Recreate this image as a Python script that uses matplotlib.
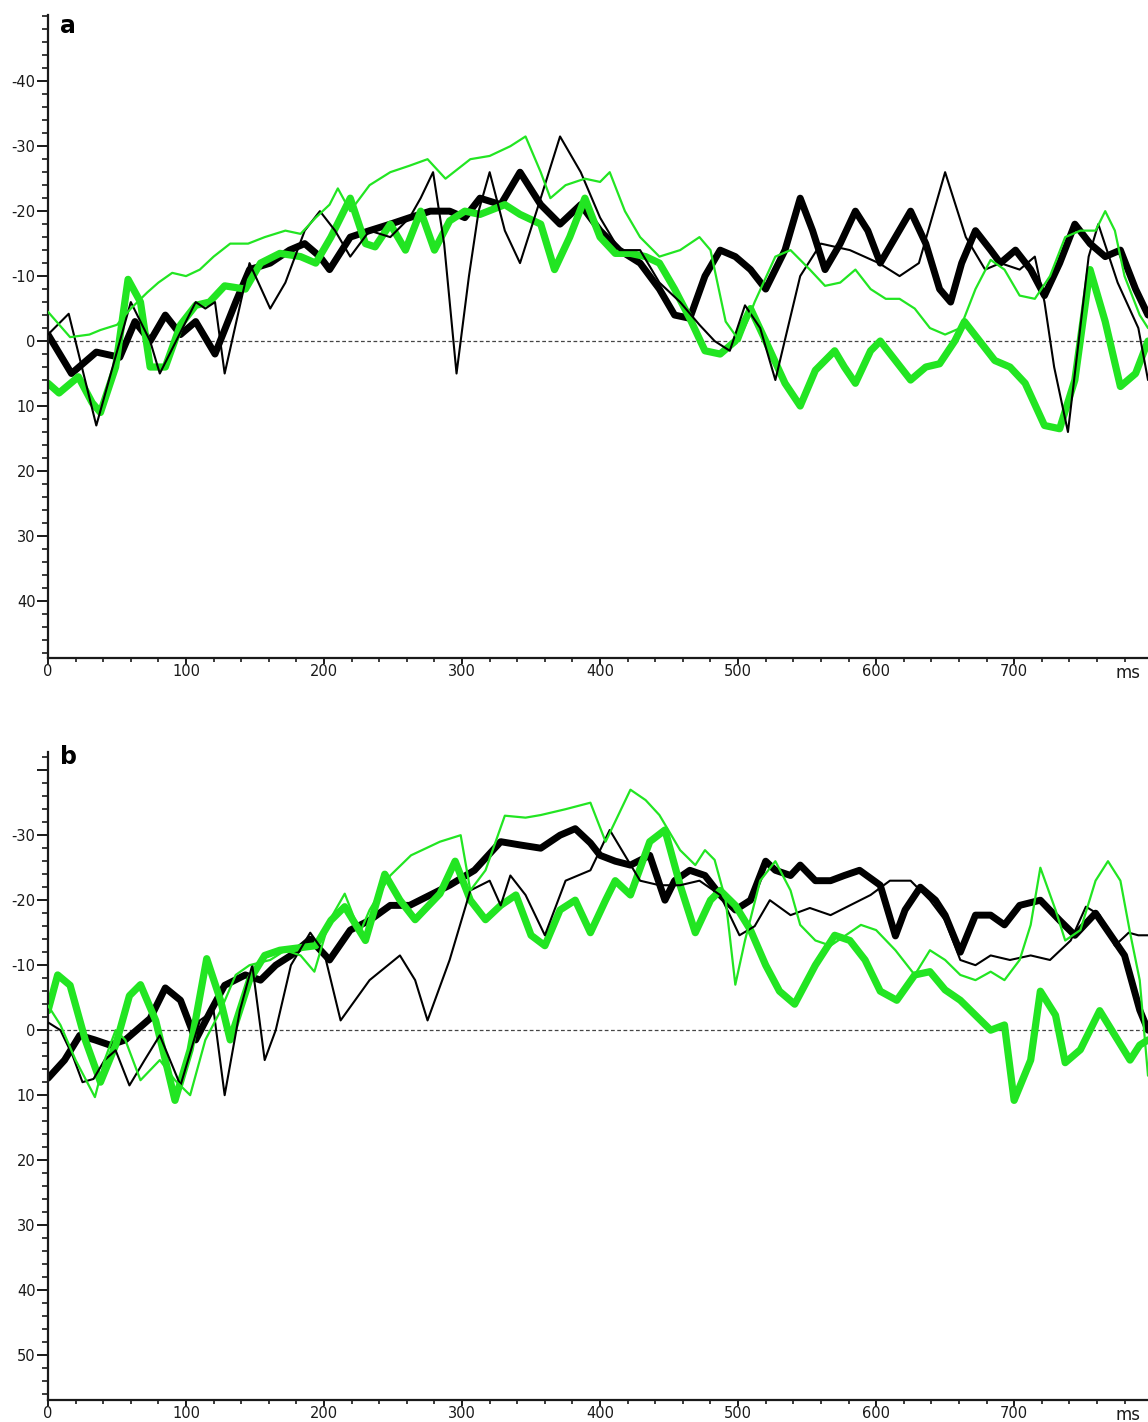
import matplotlib
matplotlib.use("Agg")
import matplotlib.pyplot as plt
from matplotlib.ticker import MultipleLocator, FixedLocator, FixedFormatter

plt.rcParams['axes.unicode_minus'] = False
plt.rcParams['font.family'] = ['DejaVu Sans']

# ---------------- Panel a data (ms, amplitude) ----------------
a_thick_black_t = [0,17,35,52,63,74,85,96,107,121,136,146,161,175,186,197,204,219,233,248,262,277,291,302,313,328,342,357,371,386,400,414,429,443,454,465,476,487,498,509,520,534,545,554,563,574,585,594,603,614,625,636,646,654,662,672,683,690,701,712,722,733,744,755,766,777,788,797]
a_thick_black_v = [-1,5,1.7,2.5,-3,0,-4,-1,-3,2,-6,-11,-12,-14,-15,-13,-11,-16,-17,-18,-19,-20,-20,-19,-22,-21,-26,-21,-18,-21,-17,-14,-12,-8,-4,-3.5,-10,-14,-13,-11,-8,-14,-22,-17,-11,-15,-20,-17,-12,-16,-20,-15,-8,-6,-12,-17,-14,-12,-14,-11,-7,-12,-18,-15,-13,-14,-8,-4]

a_thin_black_t = [0,15,35,60,74,81,107,114,121,128,146,161,172,186,197,208,219,233,248,262,270,279,287,296,305,312,320,331,342,357,371,386,400,414,429,443,458,472,483,494,505,516,527,545,560,581,602,617,631,650,665,679,690,704,715,722,729,739,754,761,775,790,797]
a_thin_black_v = [-1,-4.2,13,-6,0,5,-6,-5,-6,5,-12,-5,-9,-17,-20,-17,-13,-17,-16,-19,-22,-26,-15,5,-10,-20,-26,-17,-12,-22,-31.5,-26,-19,-14,-14,-9,-6,-2.5,0,1.5,-5.5,-2,6,-10,-15,-14,-12,-10,-12,-26,-16,-11,-12,-11,-13,-6,4,14,-13,-18,-9,-2,6]

a_thick_green_t = [0,8,22,32,38,49,58,67,74,85,96,107,117,128,143,154,168,183,194,205,219,230,237,248,259,270,280,291,302,313,331,342,357,367,378,389,400,411,422,433,443,454,465,476,487,498,509,520,534,545,556,570,577,585,596,603,614,625,636,646,657,664,675,686,697,708,722,733,744,755,766,777,788,797]
a_thick_green_v = [6.5,8,5.5,9.5,11,4,-9.5,-6,4,4,-2.5,-5.5,-6,-8.5,-8,-12,-13.5,-13,-12,-16,-22,-15,-14.5,-18,-14,-20,-14,-18.5,-20,-19.5,-21,-19.5,-18,-11,-16,-22,-16,-13.5,-13.5,-13,-12,-8,-3.5,1.5,2,0,-5,0,6.5,10,4.5,1.5,4,6.5,1.5,0,3,6,4,3.5,0,-3,0,3,4,6.5,13,13.5,6,-11,-3,7,5,0]

a_thin_green_t = [0,16,30,38,50,60,72,80,90,100,110,120,132,145,157,172,183,194,204,210,219,233,248,262,275,288,306,320,335,346,357,364,375,389,400,407,418,429,443,458,472,480,491,501,512,527,538,552,563,574,585,596,607,617,628,639,650,661,672,683,693,704,715,726,737,748,759,766,773,780,791,797]
a_thin_green_v = [-4.5,-0.6,-1,-1.7,-2.5,-5,-7.5,-9,-10.5,-10,-11,-13,-15,-15,-16,-17,-16.5,-19,-21,-23.5,-20,-24,-26,-27,-28,-25,-28,-28.5,-30,-31.5,-26,-22,-24,-25,-24.5,-26,-20,-16,-13,-14,-16,-14,-3,0,-6,-13,-14,-11,-8.5,-9,-11,-8,-6.5,-6.5,-5,-2,-1,-2,-8,-12.5,-11,-7,-6.5,-10,-16,-17,-17,-20,-17,-10,-4,-2]

# ---------------- Panel b data (ms, amplitude) ----------------
b_thick_black_t = [0,12,23,34,45,56,74,85,96,107,118,128,143,154,165,176,190,204,219,233,248,262,277,291,309,328,342,357,371,382,393,400,411,422,436,447,454,465,476,487,498,509,520,527,538,545,556,567,577,588,603,614,621,632,643,650,661,672,683,693,704,719,733,744,759,770,780,791,797]
b_thick_black_v = [7.4,4.6,0.8,1.5,2.3,1.5,-1.8,-6.5,-4.6,1.5,-3,-6.9,-8.5,-7.7,-10,-11.5,-14,-10.8,-15.4,-16.9,-19.2,-19.2,-20.8,-22.3,-24.6,-29,-28.5,-28,-30,-31,-28.8,-26.9,-26,-25.4,-26.9,-20,-23,-24.6,-23.8,-20.8,-18.5,-20,-26,-24.6,-23.8,-25.4,-23,-23,-23.8,-24.6,-22.3,-14.5,-18.5,-22,-20,-17.7,-12,-17.7,-17.7,-16.2,-19.2,-20,-16.9,-14.6,-18,-14.6,-11.5,-3.1,0]

b_thin_black_t = [0,9,18,25,33,41,49,59,70,81,96,110,120,128,139,148,157,165,176,190,200,212,233,255,266,275,291,306,320,328,335,346,360,375,393,407,418,429,443,458,472,487,501,512,523,538,552,567,581,596,610,625,639,650,661,672,683,697,712,726,741,752,762,773,783,790,797]
b_thin_black_v = [-1.2,0,4,8,7.5,4.6,3.1,8.5,4.6,0.8,8.5,-1.5,-3,10,-3,-10,4.6,0,-10,-15,-12,-1.5,-7.7,-11.5,-7.7,-1.5,-10.8,-21.5,-23,-19.2,-23.8,-20.8,-14.6,-23,-24.6,-30.8,-26.9,-23,-22.3,-22.3,-23,-20.8,-14.6,-16,-20,-17.7,-18.8,-17.7,-19.2,-20.8,-23,-23,-20,-16.9,-10.8,-10,-11.5,-10.8,-11.5,-10.8,-13.8,-19,-17.7,-13,-15,-14.6,-14.6]

b_thick_green_t = [0,7,16,27,38,49,59,67,78,85,92,103,115,125,132,146,157,168,183,194,205,215,230,244,255,266,284,295,306,317,328,339,350,360,371,382,393,404,411,422,436,447,458,469,480,487,498,509,520,530,541,556,570,581,592,603,615,628,639,650,661,672,683,693,700,712,719,730,737,748,762,773,784,791,797]
b_thick_green_v = [-3,-8.5,-6.9,1.5,8,2.3,-5.3,-7,-1.5,4.6,10.8,3,-11,-4.6,1.5,-7.7,-11.5,-12.3,-12.7,-13,-16.9,-19,-13.8,-24,-20,-17,-21,-26,-20,-17,-19.2,-20.8,-14.6,-13,-18.5,-20,-15,-20,-23,-20.8,-29,-30.8,-22.3,-15,-20,-21.5,-19.2,-15.4,-10,-6,-4,-10,-14.6,-13.8,-10.8,-6,-4.6,-8.5,-9,-6.2,-4.6,-2.3,0,-0.8,10.8,4.6,-6,-2.3,5,3,-3,0.8,4.6,2.3,1.5]

b_thin_green_t = [0,9,20,34,41,49,56,67,81,92,103,114,125,136,146,161,172,183,193,204,215,226,233,248,263,284,299,306,317,331,346,357,375,393,404,422,433,443,458,469,476,483,491,498,505,516,527,538,545,556,567,578,589,600,614,628,639,650,661,672,683,693,704,712,719,730,737,748,759,768,777,784,791,797]
b_thin_green_v = [-3.8,-0.8,4.6,10.3,4.6,0,1.5,7.7,4.6,7.7,10,1.5,-3,-8.5,-10,-10.8,-12.3,-11.5,-9,-16.9,-21,-15,-18.5,-23.8,-26.9,-29,-30,-21.5,-24.6,-33,-32.7,-33.1,-34,-35,-29,-37,-35.4,-33.1,-27.7,-25.4,-27.7,-26.2,-20,-7,-13.8,-23,-26,-21.5,-16.2,-13.8,-13,-14.6,-16.2,-15.4,-12.3,-8.5,-12.3,-10.8,-8.5,-7.7,-9,-7.7,-10.8,-16.2,-25,-18.5,-13.8,-15.4,-23,-26,-23,-15,-7.7,7]

# ---------------- Axis settings ----------------
x_major = [0, 100, 200, 300, 400, 500, 600, 700]
x_labels = ['0', '100', '200', '300', '400', '500', '600', '700']
a_ylim = (48.8, -50.2)
b_ylim = (56.9, -42.8)
a_yticks = [-40, -30, -20, -10, 0, 10, 20, 30, 40]
b_yticks = [-40, -30, -20, -10, 0, 10, 20, 30, 40, 50]
b_ylabels = ['', '-30', '-20', '-10', '0', '10', '20', '30', '40', '50']
x_max = 797

GREEN = '#22e522'
BLACK = '#000000'
AXC = '#1a1a1a'

W, H = 1148, 1422
fig = plt.figure(figsize=(W / 100, H / 100), dpi=100)

def make_axes(rect, panel_data, ylim, yticks, ylabels, letter, letter_top_px):
    ax = fig.add_axes(rect)
    ax.set_xlim(0, x_max)
    ax.set_ylim(*ylim)
    for s in ['top', 'right']:
        ax.spines[s].set_visible(False)
    for s in ['left', 'bottom']:
        ax.spines[s].set_linewidth(1.6)
        ax.spines[s].set_color(AXC)
    ax.axhline(0, color='#444444', lw=0.9, ls=(0, (3, 2)), zorder=1)
    for (t, v, col, lw) in panel_data:
        ax.plot(t, v, color=col, lw=lw, solid_joinstyle='round',
                solid_capstyle='round', zorder=3 if lw < 2 else 2)
    ax.xaxis.set_major_locator(FixedLocator(x_major))
    ax.xaxis.set_major_formatter(FixedFormatter(x_labels))
    ax.xaxis.set_minor_locator(MultipleLocator(20))
    ax.yaxis.set_major_locator(FixedLocator(yticks))
    ax.yaxis.set_major_formatter(FixedFormatter(ylabels))
    ax.yaxis.set_minor_locator(MultipleLocator(2))
    ax.tick_params(axis='y', which='major', length=8, width=1.4, color=AXC,
                   labelsize=10.5, pad=1, labelcolor=AXC)
    ax.tick_params(axis='y', which='minor', length=4, width=1.2, color=AXC)
    ax.tick_params(axis='x', which='major', length=4, width=1.4, color=AXC,
                   labelsize=10.5, pad=0.5, labelcolor=AXC)
    ax.tick_params(axis='x', which='minor', length=3, width=1.2, color=AXC)
    fig.text(60 / W, 1 - letter_top_px / H, letter, fontsize=17,
             fontweight='bold', va='top', ha='left')
    ax.text(0.982, -0.01, 'ms', transform=ax.transAxes, fontsize=12,
            va='top', ha='center', color=AXC)
    ax.patch.set_alpha(0)
    return ax

a_data = [
    (a_thick_black_t, a_thick_black_v, BLACK, 5.0),
    (a_thick_green_t, a_thick_green_v, GREEN, 5.2),
    (a_thin_black_t, a_thin_black_v, BLACK, 1.5),
    (a_thin_green_t, a_thin_green_v, GREEN, 1.6),
]
b_data = [
    (b_thick_black_t, b_thick_black_v, BLACK, 5.0),
    (b_thick_green_t, b_thick_green_v, GREEN, 5.2),
    (b_thin_black_t, b_thin_black_v, BLACK, 1.5),
    (b_thin_green_t, b_thin_green_v, GREEN, 1.6),
]

left = 48 / W
width = (W - 48) / W
make_axes([left, 1 - 658 / H, width, (658 - 15) / H], a_data, a_ylim, a_yticks,
          [str(v) for v in a_yticks], 'a', 14)
make_axes([left, 1 - 1400 / H, width, (1400 - 752) / H], b_data, b_ylim, b_yticks,
          b_ylabels, 'b', 745)

fig.savefig('out.png', dpi=100)
